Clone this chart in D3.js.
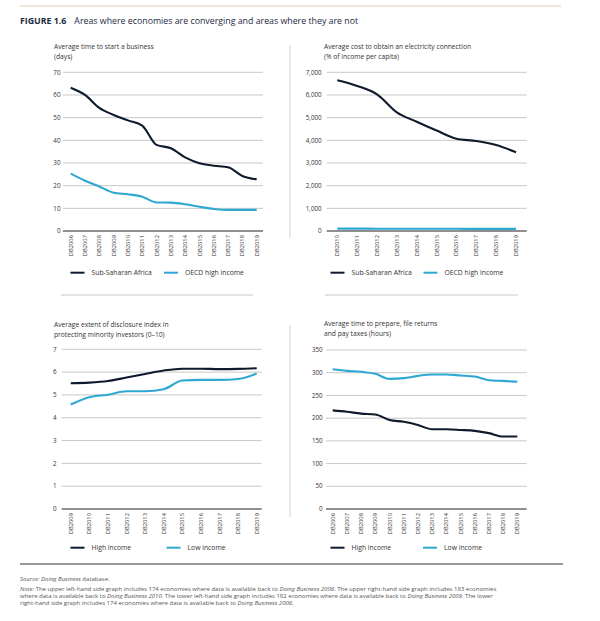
<!DOCTYPE html>
<html>
<head>
<meta charset="utf-8">
<script src="https://cdn.jsdelivr.net/npm/d3@7"></script>
<style>
  body { margin: 0; background: #fff; }
  svg { display: block; font-family: "Open Sans", sans-serif; }
</style>
</head>
<body>
<div id="chart"></div>
<script>
// top-left: average time to start a business (days)
const yearsStart = ["DB2006", "DB2007", "DB2008", "DB2009", "DB2010", "DB2011", "DB2012",
                    "DB2013", "DB2014", "DB2015", "DB2016", "DB2017", "DB2018", "DB2019"];
const startSSA = [63.2, 60, 54.3, 51.2, 48.8, 46.5, 38, 36.5, 32.5, 29.9, 28.8, 28.1, 24.3, 22.8];
const startOECD = [25.3, 22.2, 19.6, 16.9, 16.2, 15.1, 12.6, 12.5, 11.8, 10.7, 9.7, 9.3, 9.3, 9.3];

// top-right: cost of electricity connection (% of income per capita)
const yearsElec = ["DB2010", "DB2011", "DB2012", "DB2013", "DB2014", "DB2015", "DB2016",
                   "DB2017", "DB2018", "DB2019"];
const elecSSA = [6650, 6400, 6030, 5235, 4820, 4430, 4070, 3970, 3790, 3470];
const elecOECD = [105, 104, 102, 100, 98, 97, 96, 95, 94, 93];

// bottom-left: disclosure index (0-10)
const yearsDisc = ["DB2009", "DB2010", "DB2011", "DB2012", "DB2013", "DB2014", "DB2015",
                   "DB2016", "DB2017", "DB2018", "DB2019"];
const discHigh = [5.51, 5.54, 5.61, 5.76, 5.92, 6.07, 6.15, 6.15, 6.13, 6.14, 6.17];
const discLow = [4.58, 4.9, 5.01, 5.16, 5.16, 5.25, 5.63, 5.66, 5.66, 5.7, 5.94];

// bottom-right: time to prepare, file and pay taxes (hours)
const yearsTax = yearsStart;
const taxHigh = [217, 214, 210, 208, 196, 192, 185, 175.5, 175.5, 174, 172, 167, 159.5, 159.5];
const taxLow = [307.5, 304, 302, 297.5, 286.5, 288, 293, 296, 296, 294, 291.5, 283.5, 282, 280];

const dark = "#0d1b2c";
const teal = "#2ea8d2";

const svg = d3.select("#chart").append("svg")
    .attr("width", 600)
    .attr("height", 621);

// header rule + title
svg.append("line")
    .attr("x1", 20).attr("x2", 561).attr("y1", 6).attr("y2", 6)
    .attr("stroke", "#e9dfc6").attr("stroke-width", 1.5);
const head = svg.append("text").attr("x", 20).attr("y", 24)
    .attr("font-size", 8.8).attr("fill", "#1b2a3f");
head.append("tspan").attr("font-weight", "bold").text("FIGURE 1.6");
head.append("tspan").attr("dx", 8).text("Areas where economies are converging and areas where they are not");

function drawPanel(p) {
    const g = svg.append("g");

    const x = d3.scalePoint().domain(p.years).range(p.pointRange);
    const y = d3.scaleLinear().domain([0, p.max]).range([p.zeroY, p.topY]);

    // title
    p.title.forEach((t, i) => {
        g.append("text")
            .attr("x", p.titleX).attr("y", p.titleY + i * 9.5)
            .attr("font-size", 6.7).attr("fill", "#333")
            .text(t);
    });

    // gridlines
    const ticks = d3.range(0, p.max + 1, p.step);
    g.selectAll(".grid")
        .data(ticks.filter(d => d > 0))
        .enter().append("line")
        .attr("x1", p.gridRange[0]).attr("x2", p.gridRange[1])
        .attr("y1", d => y(d)).attr("y2", d => y(d))
        .attr("stroke", "#c8c8c8").attr("stroke-width", 1);

    // zero axis line
    g.append("line")
        .attr("x1", p.gridRange[0]).attr("x2", p.gridRange[1])
        .attr("y1", y(0)).attr("y2", y(0))
        .attr("stroke", "#6a6a6a").attr("stroke-width", 1.3);

    // y tick labels
    g.selectAll(".ylab")
        .data(ticks)
        .enter().append("text")
        .attr("x", p.labelX).attr("y", d => y(d))
        .attr("dy", "0.35em")
        .attr("text-anchor", "end")
        .attr("font-size", 6.3).attr("fill", "#333")
        .text(p.fmt);

    // x tick labels (rotated)
    g.selectAll(".xlab")
        .data(p.years)
        .enter().append("text")
        .attr("transform", d => `translate(${x(d)},${y(0) + 4}) rotate(-90)`)
        .attr("dy", "0.35em")
        .attr("text-anchor", "end")
        .attr("font-size", 5.8).attr("fill", "#333")
        .text(d => d);

    // series lines
    const line = d3.line()
        .x((d, i) => x(p.years[i]))
        .y(d => y(d))
        .curve(d3.curveMonotoneX);

    p.series.forEach(s => {
        g.append("path")
            .datum(s.values)
            .attr("d", line)
            .attr("fill", "none")
            .attr("stroke", s.color)
            .attr("stroke-width", 2.1)
            .attr("stroke-linejoin", "round");
    });

    // legend
    p.series.forEach((s, i) => {
        const lx = p.legendX[i];
        g.append("line")
            .attr("x1", lx).attr("x2", lx + 14)
            .attr("y1", p.legendY).attr("y2", p.legendY)
            .attr("stroke", s.color).attr("stroke-width", 2);
        g.append("text")
            .attr("x", lx + 21).attr("y", p.legendY)
            .attr("dy", "0.35em")
            .attr("font-size", 6.8).attr("fill", "#333")
            .text(s.name);
    });
}

const fmtComma = d3.format(",");

drawPanel({
    years: yearsStart, max: 70, step: 10, fmt: d => d,
    title: ["Average time to start a business", "(days)"], titleX: 54, titleY: 49,
    gridRange: [63, 263], pointRange: [70.7, 256.7], zeroY: 231, topY: 72.3, labelX: 60.5,
    series: [{ name: "Sub-Saharan Africa", values: startSSA, color: dark },
             { name: "OECD high income", values: startOECD, color: teal }],
    legendX: [70.5, 164], legendY: 272.7
});

drawPanel({
    years: yearsElec, max: 7000, step: 1000, fmt: fmtComma,
    title: ["Average cost to obtain an electricity connection", "(% of income per capita)"], titleX: 324, titleY: 49,
    gridRange: [326.7, 526.7], pointRange: [337.3, 516], zeroY: 231, topY: 72.3, labelX: 321.7,
    series: [{ name: "Sub-Saharan Africa", values: elecSSA, color: dark },
             { name: "OECD high income", values: elecOECD, color: teal }],
    legendX: [330.5, 423.5], legendY: 272.7
});

drawPanel({
    years: yearsDisc, max: 7, step: 1, fmt: d => d,
    title: ["Average extent of disclosure index in", "protecting minority investors (0\u201310)"], titleX: 54, titleY: 327,
    gridRange: [61.7, 261.7], pointRange: [70.7, 256.7], zeroY: 509, topY: 349.3, labelX: 56.7,
    series: [{ name: "High income", values: discHigh, color: dark },
             { name: "Low income", values: discLow, color: teal }],
    legendX: [70.5, 166.5], legendY: 547.7
});

drawPanel({
    years: yearsTax, max: 350, step: 50, fmt: d => d,
    title: ["Average time to prepare, file returns", "and pay taxes (hours)"], titleX: 324, titleY: 326,
    gridRange: [326, 526.7], pointRange: [332.7, 517.3], zeroY: 509, topY: 350, labelX: 322.7,
    series: [{ name: "High income", values: taxHigh, color: dark },
             { name: "Low income", values: taxLow, color: teal }],
    legendX: [330.5, 423], legendY: 547.7
});

// separators
svg.append("line").attr("x1", 290).attr("x2", 290).attr("y1", 45).attr("y2", 238)
    .attr("stroke", "#dcdcdc").attr("stroke-width", 1.2);
svg.append("line").attr("x1", 290).attr("x2", 290).attr("y1", 325).attr("y2", 517)
    .attr("stroke", "#dcdcdc").attr("stroke-width", 1.2);
svg.append("line").attr("x1", 61).attr("x2", 253).attr("y1", 295).attr("y2", 295)
    .attr("stroke", "#c8c8c8").attr("stroke-width", 1);
svg.append("line").attr("x1", 325).attr("x2", 518).attr("y1", 295).attr("y2", 295)
    .attr("stroke", "#c8c8c8").attr("stroke-width", 1);
svg.append("line").attr("x1", 20).attr("x2", 563).attr("y1", 564).attr("y2", 564)
    .attr("stroke", "#999").attr("stroke-width", 1.8);

// footer notes
const notes = svg.append("g").attr("font-size", 6.0).attr("fill", "#555");
const src = notes.append("text").attr("x", 20).attr("y", 580.5);
src.append("tspan").attr("font-style", "italic").text("Source: Doing Business");
src.append("tspan").text(" database.");

const noteLines = [
    [["i", "Note:"], ["n", " The upper left-hand side graph includes 174 economies where data is available back to "], ["i", "Doing Business 2006"], ["n", ". The upper right-hand side graph includes 183 economies"]],
    [["n", "where data is available back to "], ["i", "Doing Business 2010"], ["n", ". The lower left-hand side graph includes 182 economies where data is available back to "], ["i", "Doing Business 2009"], ["n", ". The lower"]],
    [["n", "right-hand side graph includes 174 economies where data is available back to "], ["i", "Doing Business 2006"], ["n", "."]]
];
noteLines.forEach((parts, i) => {
    const t = notes.append("text").attr("x", 20).attr("y", 590.5 + i * 7);
    parts.forEach(pt => {
        t.append("tspan")
            .attr("font-style", pt[0] === "i" ? "italic" : "normal")
            .text(pt[1]);
    });
});
</script>
</body>
</html>
